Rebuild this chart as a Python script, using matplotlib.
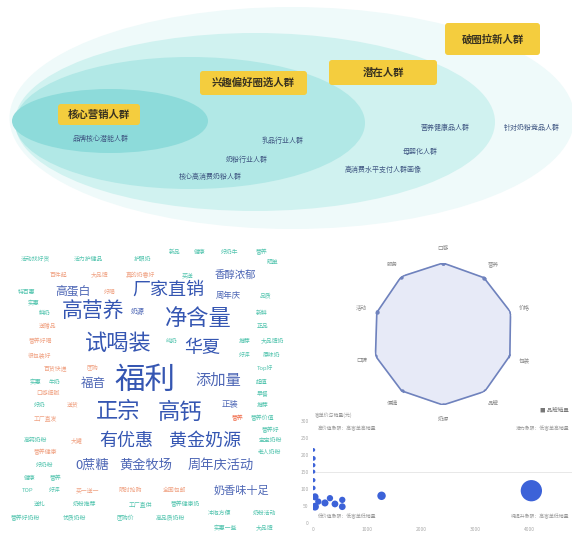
import numpy as np
import matplotlib
matplotlib.use("Agg")
import matplotlib.pyplot as plt
from matplotlib.patches import Ellipse, FancyBboxPatch

plt.rcParams['font.family'] = ['Noto Sans CJK SC', 'DejaVu Sans']

# ---- 人群圈层 ----
tier_names = ["核心营销人群", "兴趣偏好圈选人群", "潜在人群", "破圈拉新人群"]
tier_notes = [
    ["品牌核心潜能人群"],
    ["乳品行业人群", "奶粉行业人群", "核心高消费奶粉人群"],
    ["营养健康品人群", "母婴化人群", "高消费水平支付人群画像"],
    ["针对奶粉竞品人群"],
]

# ---- 词云 ----
cloud_words = [
    "福利", "试喝装", "净含量", "正宗", "高钙", "高营养", "有优惠", "黄金奶源",
    "厂家直销", "华夏", "添加量", "0蔗糖", "黄金牧场", "周年庆活动", "高蛋白",
    "福音", "奶香味十足", "香醇浓郁", "周年庆", "正装", "奶源",
]
cloud_weights = [22, 16, 16, 16, 16, 15, 13, 13, 13, 13, 11, 9.5, 9.5, 9.5, 8.5,
                 9, 8, 7.5, 6, 6, 5]
small_teal = [
    "活动找好货", "活力护健品", "护眼奶", "新品", "健康", "好奶牛", "营养", "买送",
    "晒单", "特百惠", "品质", "实惠", "鲜奶", "新鲜", "正品", "纯奶", "推荐",
    "大品牌奶", "好评", "原味奶", "Top好", "实惠", "牛奶", "超值", "早餐", "好奶",
    "推荐", "营养价值", "营养好", "高钙奶粉", "宝宝奶粉", "老人奶粉", "好奶粉",
    "健康", "营养", "TOP", "好评", "送礼", "奶粉推荐", "工厂直供", "营养健康奶",
    "营养好奶粉", "优质奶粉", "团购价", "高品质奶粉", "冲泡方便", "奶粉活动",
    "实惠一些", "大品牌",
]
small_salmon = [
    "百件起", "大品牌", "真的奶香好", "好喝", "送赠品", "营养好喝", "很包装好",
    "百货快递", "团购", "口感细腻", "送货", "工厂直发", "营养", "大罐", "营养健康",
    "买一送一", "限时抢购", "全国包邮",
]

# ---- 雷达图 ----
radar_labels = ["口感", "营养", "价格", "包装", "品牌", "奶源", "便捷", "口碑", "活动", "服务"]
radar_values = [100, 98, 100, 99, 100, 100, 99, 100, 98, 100]

# ---- 气泡图 ----
bubble_x = [6, 6, 6, 6, 6, 6, 37, 98, 221, 313, 37, 405, 540, 540, 1265, 4030]
bubble_y = [215, 190, 170, 151, 126, 103, 77, 63, 59, 73, 48, 56, 68, 48, 80, 95]
bubble_v = [6, 14, 10, 8, 10, 12, 40, 30, 40, 30, 50, 36, 30, 36, 60, 420]

W, H = 572, 534
fig = plt.figure(figsize=(W / 100, H / 100), dpi=100)
ax = fig.add_axes([0, 0, 1, 1])
ax.set_xlim(0, W)
ax.set_ylim(H, 0)
ax.set_axis_off()

# 圈层椭圆，从外到内
ellipses = [((292, 118), 565, 222, "#effafa"),
            ((255, 122), 480, 178, "#d0f2f0"),
            ((190, 123), 350, 132, "#b1e8e6"),
            ((110, 121), 196, 64, "#8ddbda")]
for (c, w, h, col) in ellipses:
    ax.add_patch(Ellipse(c, w, h, fc=col, ec="none", zorder=1))

boxes = [(58, 104, 82, 21), (200, 71, 107, 24), (329, 60, 108, 25), (445, 23, 95, 32)]
for name, (bx, by, bw, bh) in zip(tier_names, boxes):
    ax.add_patch(FancyBboxPatch((bx, by), bw, bh, boxstyle="round,pad=0,rounding_size=3",
                                fc="#f4cd3e", ec="none", zorder=2))
    ax.text(bx + bw / 2, by + bh / 2, name, fontsize=7.5, fontweight="bold",
            color="#3a3320", ha="center", va="center", zorder=3)

note_pos = [[(100, 139)],
            [(283, 141), (247, 160), (210, 177)],
            [(445, 128), (420, 152), (383, 170)],
            [(532, 128)]]
for notes, pos in zip(tier_notes, note_pos):
    for t, (x, y) in zip(notes, pos):
        ax.text(x, y, t, fontsize=5, color="#3f5682", ha="center", va="center", zorder=3)

# 词云
big_pos = [(145, 380), (118, 343), (198, 318), (118, 412), (180, 412), (93, 311),
           (126, 441), (205, 441), (168, 290), (202, 348), (218, 380), (92, 465),
           (146, 465), (221, 465), (73, 291), (93, 383), (241, 491), (235, 275),
           (228, 295), (230, 404), (138, 312)]
for w, s, (x, y) in zip(cloud_words, cloud_weights, big_pos):
    col = "#3556b2" if s >= 13 else "#4d66b5"
    ax.text(x, y, w, fontsize=s, color=col, ha="center", va="center", zorder=3)

teal_pos = [(35, 259), (88, 259), (143, 259), (175, 252), (200, 252), (230, 252),
            (262, 252), (188, 275), (272, 262), (27, 292), (265, 295), (33, 303),
            (45, 313), (262, 313), (263, 326), (172, 341), (245, 341), (272, 341),
            (245, 355), (272, 355), (265, 368), (35, 382), (55, 382), (262, 382),
            (263, 393), (40, 405), (263, 405), (262, 418), (270, 430), (35, 440),
            (270, 440), (270, 452), (45, 465), (30, 478), (55, 478), (28, 490),
            (55, 490), (40, 504), (85, 504), (140, 504), (185, 504), (25, 518),
            (75, 518), (125, 518), (170, 518), (220, 513), (265, 513), (225, 528),
            (265, 528)]
for w, (x, y) in zip(small_teal, teal_pos):
    ax.text(x, y, w, fontsize=4.2, color="#52c4ae", ha="center", va="center", zorder=3)

salmon_pos = [(58, 275), (100, 275), (140, 275), (110, 292), (48, 326), (40, 341),
              (40, 355), (55, 368), (92, 368), (48, 393), (73, 405), (45, 418),
              (237, 418), (77, 440), (45, 452), (87, 490), (130, 490), (175, 490)]
for w, (x, y) in zip(small_salmon, salmon_pos):
    col = "#f06a48" if (x, y) == (237, 418) else "#f0a283"
    ax.text(x, y, w, fontsize=4.2, color=col, ha="center", va="center", zorder=3)

# 雷达图
cx, cy, r = 443, 334, 71
rax = fig.add_axes([(cx - r) / W, (H - cy - r) / H, 2 * r / W, 2 * r / H], polar=True)
rax.set_theta_offset(np.pi / 2)
rax.set_theta_direction(-1)
ang = np.linspace(0, 2 * np.pi, len(radar_values), endpoint=False)
vals = np.r_[radar_values, radar_values[0]]
angs = np.r_[ang, ang[0]]
rax.fill(angs, vals, color="#e7eaf7", zorder=2)
rax.plot(angs, vals, color="#6f82bd", lw=1.2, marker="o", ms=2.2, zorder=3)
rax.set_ylim(0, 100)
rax.set_yticks([25, 50, 75])
rax.set_yticklabels([])
rax.set_xticks(ang)
rax.set_xticklabels(radar_labels, fontsize=4, color="#8a8a8a")
rax.tick_params(axis="x", pad=0)
rax.grid(color="#f1f3fa", lw=0.8)
rax.spines["polar"].set_visible(False)
rax.set_facecolor("none")

# 气泡图
bx0, bx1, by0, by1 = 313, 572, 421, 523
bax = fig.add_axes([bx0 / W, (H - by1) / H, (bx1 - bx0) / W, (by1 - by0) / H])
bax.scatter(bubble_x, bubble_y, s=np.array(bubble_v) * 0.55 + 4, color="#3c62d8",
            edgecolors="none", zorder=3)
bax.set_xlim(0, 4780)
bax.set_ylim(0, 300)
bax.set_xticks([0, 1000, 2000, 3000, 4000])
bax.set_yticks(np.arange(0, 301, 50))
bax.tick_params(labelsize=3.5, labelcolor="#a8a8a8", length=0, pad=3)
for sp in bax.spines.values():
    sp.set_visible(False)
bax.axhline(150, color="#e4e4e4", lw=0.6, zorder=1)
bax.set_facecolor("none")
qtxt = dict(fontsize=3.5, color="#9a9a9a", va="center")
bax.text(90, 278, "高价值象限：高客单高销量", ha="left", **qtxt)
bax.text(4740, 278, "潜力象限：低客单高销量", ha="right", **qtxt)
bax.text(90, 18, "低价值象限：低客单低销量", ha="left", **qtxt)
bax.text(4740, 18, "待提升象限：高客单低销量", ha="right", **qtxt)
fig.text(315 / W, 1 - 415 / H, "客单价与销量(元)", fontsize=3.5, color="#9a9a9a",
         va="center")
fig.text(569 / W, 1 - 410 / H, "■ 品牌销量", fontsize=4, color="#777777",
         va="center", ha="right")

fig.savefig("out.png", dpi=100)
